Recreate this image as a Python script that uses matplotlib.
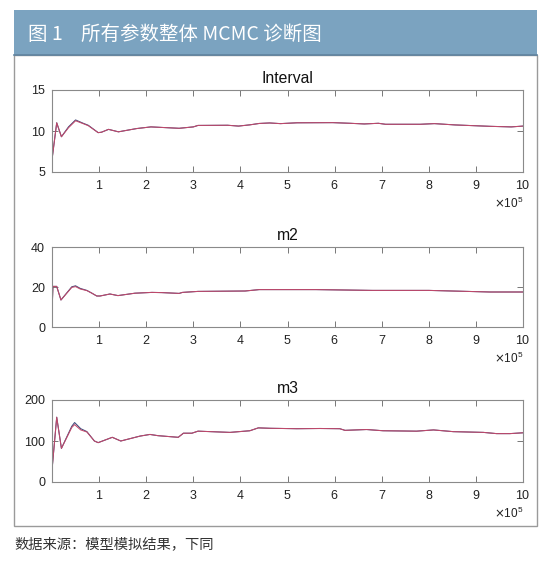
import numpy as np
import matplotlib.pyplot as plt
from matplotlib.patches import Rectangle
from matplotlib.ticker import ScalarFormatter

plt.rcParams['font.family'] = ['Liberation Sans', 'DejaVu Sans']

# iterations are given in units of 1e5
titles = ['Interval', 'm2', 'm3']
ylims = [(5, 15), (0, 40), (0, 200)]
yticks = [[5, 10, 15], [0, 20, 40], [0, 100, 200]]

int_x = [0, 0.1, 0.2, 0.35, 0.5, 0.66, 0.77, 0.98, 1.05, 1.2, 1.41, 1.8, 1.95, 2.1, 2.7, 3.0, 3.1,
         3.73, 3.96, 4.2, 4.4, 4.62, 4.85, 5.2, 5.96, 6.33, 6.63, 6.93, 7.08, 7.82, 8.12, 8.56,
         9.3, 9.75, 10]
int_red = [6.5, 11.0, 9.3, 10.4, 11.25, 10.9, 10.65, 9.8, 9.85, 10.2, 9.9, 10.3, 10.4, 10.5, 10.33,
           10.5, 10.68, 10.7, 10.6, 10.75, 10.92, 10.98, 10.9, 11.0, 11.02, 10.94, 10.86, 10.94,
           10.82, 10.82, 10.9, 10.74, 10.57, 10.5, 10.6]
int_blue = [6.5, 11.0, 9.3, 10.5, 11.35, 10.95, 10.7, 9.8, 9.85, 10.2, 9.9, 10.3, 10.4, 10.5, 10.33,
            10.5, 10.68, 10.7, 10.6, 10.75, 10.92, 10.98, 10.9, 11.0, 11.02, 10.94, 10.86, 10.94,
            10.82, 10.82, 10.9, 10.74, 10.57, 10.5, 10.6]

m2_x = [0, 0.02, 0.1, 0.19, 0.42, 0.5, 0.6, 0.74, 0.84, 0.95, 1.02, 1.23, 1.4, 1.76, 2.12, 2.33,
        2.7, 2.77, 3.1, 4.1, 4.4, 5.6, 6.8, 8.0, 9.3, 10]
m2_red = [7.6, 20.3, 20.3, 13.5, 19.8, 20.2, 19.0, 18.2, 17.0, 15.5, 15.5, 16.5, 15.7, 16.9, 17.3,
          17.2, 16.8, 17.3, 17.8, 18.0, 18.7, 18.7, 18.3, 18.3, 17.5, 17.5]
m2_blue = [7.6, 20.3, 20.3, 13.5, 20.1, 20.6, 19.3, 18.3, 17.0, 15.5, 15.5, 16.5, 15.7, 16.9, 17.3,
           17.2, 16.8, 17.3, 17.8, 18.0, 18.7, 18.7, 18.3, 18.3, 17.5, 17.5]

m3_x = [0, 0.1, 0.2, 0.42, 0.48, 0.61, 0.74, 0.9, 0.98, 1.28, 1.46, 1.87, 2.08, 2.25, 2.68, 2.79,
        2.97, 3.1, 3.78, 4.2, 4.38, 4.63, 5.2, 5.69, 6.11, 6.22, 6.68, 7.03, 7.74, 8.1, 8.52,
        9.16, 9.44, 9.72, 10]
m3_red = [29, 158, 82, 133, 140, 127, 122, 100, 96, 109, 100, 112, 116, 113, 109, 119, 119, 124,
          121, 125, 132, 131, 130, 130.5, 130, 126, 128, 125, 124, 127, 122.8, 121, 118, 118, 120]
m3_blue = [29, 158, 82, 136, 145, 130, 123, 100, 96, 109, 100, 112, 116, 113, 109, 119, 119, 124,
           121, 125, 132, 131, 130, 130.5, 130, 126, 128, 125, 124, 127, 122.8, 121, 118, 118, 120]

series = [(int_x, int_blue, int_red), (m2_x, m2_blue, m2_red), (m3_x, m3_blue, m3_red)]

W, H = 550, 563
fig = plt.figure(figsize=(W / 100, H / 100), dpi=100)

def px(x0, y0, x1, y1):
    # pixel box (top-left origin) -> figure fraction rect
    return [x0 / W, 1 - y1 / H, (x1 - x0) / W, (y1 - y0) / H]

cjk = ['Noto Sans CJK SC', 'DejaVu Sans']

# header band and frame
fig.patches.append(Rectangle((14 / W, 1 - 55 / H), 523 / W, 45 / H, transform=fig.transFigure,
                             facecolor='#7ba3c0', edgecolor='none', zorder=0))
fig.add_artist(plt.Line2D([14 / W, 537 / W], [1 - 55 / H, 1 - 55 / H], transform=fig.transFigure,
                          color='#5f83a0', lw=1.2))
fig.patches.append(Rectangle((14 / W, 1 - 526 / H), 523 / W, 471 / H, transform=fig.transFigure,
                             facecolor='none', edgecolor='#9a9a9a', lw=1.0, zorder=0))
fig.text(28 / W, 1 - 34 / H, '图 1', color='white', fontsize=14, va='center', ha='left', family=cjk)
fig.text(81 / W, 1 - 34 / H, '所有参数整体 MCMC 诊断图', color='white', fontsize=14,
         va='center', ha='left', family=cjk)
fig.text(14 / W, 1 - 544 / H, '数据来源：模型模拟结果，下同', color='#333333', fontsize=10.3,
         va='center', ha='left', family=cjk)

boxes = [(90, 172), (247, 327), (400, 482)]
for i, (top, bot) in enumerate(boxes):
    ax = fig.add_axes(px(52, top, 523, bot))
    xs, yb, yr = series[i]
    it = np.array(xs) * 1e5
    ax.plot(it, yb, color='#3e4a7a', lw=0.75)
    ax.plot(it, yr, color='#c0486a', lw=0.75)
    ax.set_xlim(0, 1e6)
    ax.set_ylim(*ylims[i])
    ax.set_xticks(np.arange(1, 11) * 1e5)
    ax.set_yticks(yticks[i])
    fmt = ScalarFormatter(useMathText=True)
    fmt.set_powerlimits((5, 5))
    ax.xaxis.set_major_formatter(fmt)
    ax.xaxis.get_offset_text().set_fontsize(8.5)
    ax.xaxis.get_offset_text().set_color('#222222')
    ax.tick_params(direction='in', top=True, right=True, length=4, width=0.7,
                   colors='#777777', labelcolor='#222222', labelsize=9, pad=5)
    for s in ax.spines.values():
        s.set_color('#8a8a8a')
        s.set_linewidth(0.8)
    ax.set_title(titles[i], fontsize=11.3, color='#111111', pad=5)

fig.savefig('out.png', dpi=100)
